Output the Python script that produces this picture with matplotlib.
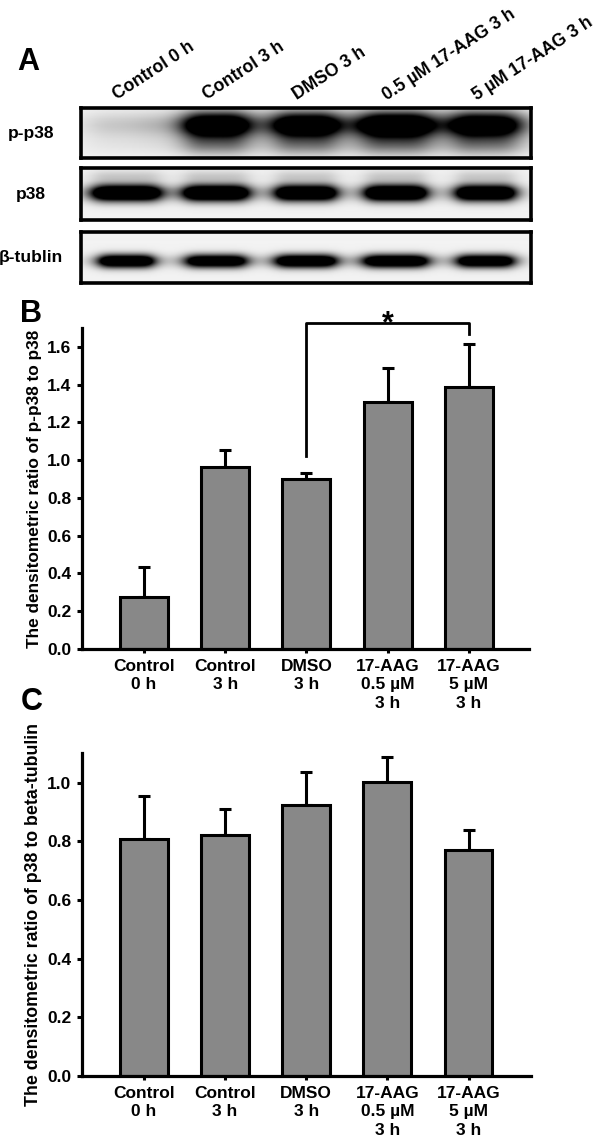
import numpy as np
import matplotlib
matplotlib.use('Agg')
import matplotlib.pyplot as plt

plt.rcParams['font.family'] = ['Liberation Sans', 'DejaVu Sans']
plt.rcParams['font.weight'] = 'bold'

# ---- data ----
lanes = ['Control 0 h', 'Control 3 h', 'DMSO 3 h', '0.5 µM 17-AAG 3 h', '5 µM 17-AAG 3 h']
rows = ['p-p38', 'p38', 'β-tublin']

# band darkness / half width (lane units)
pp38_band = [0.10, 1.0, 0.95, 1.05, 0.95]
pp38_width = [0.45, 0.37, 0.37, 0.41, 0.39]
p38_band = [1.0, 1.0, 0.95, 1.0, 0.95]
p38_width = [0.38, 0.36, 0.34, 0.34, 0.33]
tub_band = [0.95, 0.9, 0.95, 0.95, 0.9]
tub_width = [0.31, 0.34, 0.34, 0.36, 0.32]

groups = ['Control\n0 h', 'Control\n3 h', 'DMSO\n3 h', '17-AAG\n0.5 µM\n3 h', '17-AAG\n5 µM\n3 h']
pp38_ratio = [0.273, 0.965, 0.898, 1.309, 1.385]
pp38_err = [0.159, 0.088, 0.032, 0.179, 0.229]
p38_ratio = [0.807, 0.821, 0.923, 1.003, 0.772]
p38_err = [0.147, 0.089, 0.112, 0.085, 0.068]

W, H = 596, 1141
fig = plt.figure(figsize=(W / 100, H / 100), dpi=100)


def px_axes(x0, y0, x1, y1):
    # axes from pixel box (top-left origin)
    return fig.add_axes([x0 / W, 1 - y1 / H, (x1 - x0) / W, (y1 - y0) / H])


def blot_image(density, width, yc, thick, gain=1.6, edge=6, smear=0.0, haze=0.0):
    x = np.linspace(-0.5, 4.5, 450)
    y = np.linspace(0, 1, 60)
    X, Y = np.meshgrid(x, y)
    ink = np.full(X.shape, 0.05)
    for i, (d, hw) in enumerate(zip(density, width)):
        px = 1.0 / (1.0 + np.abs((X - i) / hw) ** edge)
        core = np.exp(-np.abs((Y - yc) / thick) ** 2)
        ink += d * px * core * gain
        if smear:
            ink += d * smear * px * np.exp(-((Y - yc + 0.4) / 0.22) ** 2)
        if haze:
            ink += d * haze * px * np.exp(-((Y - yc - 0.33) / 0.12) ** 2)
    return 1 - np.clip(ink, 0, 1)


# ---- panel A ----
boxes = [(108.3, 158.3), (168.3, 220), (231.7, 283.3)]
imgs = [blot_image(pp38_band, pp38_width, 0.66, 0.26, gain=1.5, edge=4, smear=0.4),
        blot_image(p38_band, p38_width, 0.52, 0.16, gain=1.7, haze=0.15),
        blot_image(tub_band, tub_width, 0.42, 0.13, gain=1.6)]
blot_axes = []
for (y0, y1), img, name in zip(boxes, imgs, rows):
    ax = px_axes(81, y0, 531, y1)
    ax.imshow(img, cmap='gray', vmin=0, vmax=1, extent=(-0.5, 4.5, 0, 1),
              aspect='auto', origin='lower', interpolation='bilinear')
    ax.set_xlim(-0.5, 4.5)
    ax.set_ylim(0, 1)
    ax.set_xticks([])
    ax.set_yticks([])
    for s in ax.spines.values():
        s.set_linewidth(2.6)
    ax.text(-0.111, 0.5, name, transform=ax.transAxes, ha='center', va='center',
            fontsize=12.5, fontweight='bold')
    blot_axes.append(ax)

for i, lab in enumerate(lanes):
    blot_axes[0].annotate(lab, xy=(i - 0.1, 1), xycoords=('data', 'axes fraction'),
                          xytext=(0, 8), textcoords='offset pixels', rotation=33,
                          rotation_mode='anchor', ha='left', va='baseline',
                          fontsize=12.7, fontweight='bold')

fig.text(17 / W, 1 - 70 / H, 'A', fontsize=22, fontweight='bold', ha='left', va='baseline')
fig.text(20.5 / W, 1 - 321.7 / H, 'B', fontsize=22, fontweight='bold', ha='left', va='baseline')
fig.text(20.5 / W, 1 - 710.5 / H, 'C', fontsize=22, fontweight='bold', ha='left', va='baseline')


def bar_panel(ax, vals, errs, ylim, ylabel, xright, lsize):
    x = np.arange(len(groups))
    ax.bar(x, vals, width=0.59, color='#888888', edgecolor='black', linewidth=2.2, zorder=2)
    ax.errorbar(x, vals, yerr=[np.zeros(len(errs)), errs], fmt='none', ecolor='black',
                elinewidth=2.2, capsize=4, capthick=2.2, zorder=1)
    ax.set_xlim(-0.767, xright)
    ax.set_ylim(0, ylim)
    ax.set_yticks(np.arange(0, ylim, 0.2))
    ax.set_xticks(x)
    ax.set_xticklabels(groups, fontsize=12.5, fontweight='bold', linespacing=1.3)
    for lab in ax.get_yticklabels():
        lab.set_fontsize(12.5)
        lab.set_fontweight('bold')
    ax.spines['top'].set_visible(False)
    ax.spines['right'].set_visible(False)
    ax.spines['left'].set_linewidth(2.3)
    ax.spines['bottom'].set_linewidth(2.3)
    ax.tick_params(axis='y', direction='out', length=3.8, width=2.2, pad=3.5)
    ax.tick_params(axis='x', direction='out', length=3, width=2.2, pad=4)
    ax.set_ylabel(ylabel, fontsize=lsize, fontweight='bold')
    ax.yaxis.set_label_coords(-0.088, 0.5)


# ---- panel B ----
axB = px_axes(81.7, 328, 529.3, 649)
bar_panel(axB, pp38_ratio, pp38_err, 1.7, 'The densitometric ratio of p-p38 to p38', 4.745, 12.4)
axB.plot([2, 2, 4, 4], [1.023, 1.729, 1.729, 1.667], color='black', lw=2.0, clip_on=False)
axB.text(3, 1.675, '*', ha='center', va='baseline', fontsize=22, fontweight='bold')

# ---- panel C ----
axC = px_axes(81.7, 753.3, 531, 1076)
bar_panel(axC, p38_ratio, p38_err, 1.1, 'The densitometric ratio of p38 to beta-tubulin', 4.77, 12.8)

fig.savefig('out.png', dpi=100)
